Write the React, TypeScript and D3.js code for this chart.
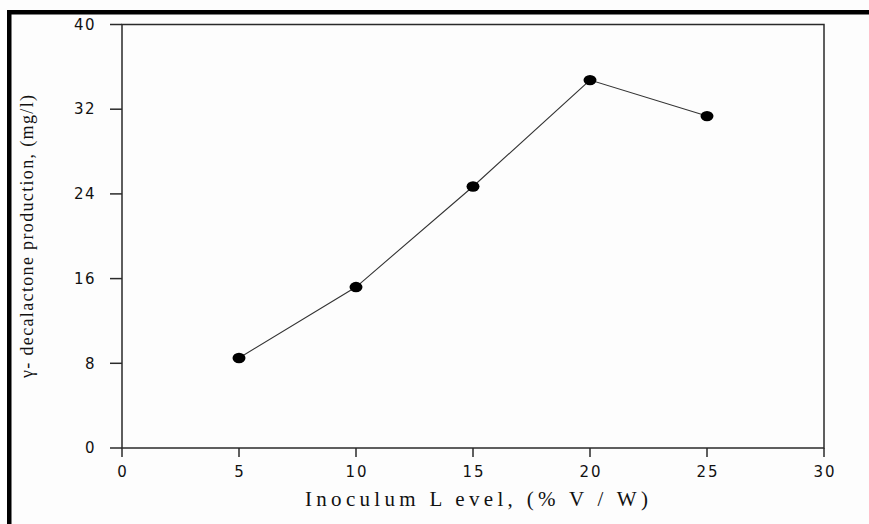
import React from "react";
import * as d3 from "d3";

const inoculumLevels = [5, 10, 15, 20, 25];
const lactoneValues = [8.5, 15.2, 24.7, 34.75, 31.35];
const xTicks = [0, 5, 10, 15, 20, 25, 30];
const yTicks = [0, 8, 16, 24, 32, 40];
const xTitle = "Inoculum L evel, (% V / W)";
const yTitle = "γ- decalactone production, (mg/l)";

const W = 869;
const H = 524;
const left = 122;
const right = 824;
const top = 24.5;
const bottom = 448;

export default function App() {
  const x = d3.scaleLinear().domain([0, 30]).range([left, right]);
  const y = d3.scaleLinear().domain([0, 40]).range([bottom, top]);
  const pts = inoculumLevels.map((v, i) => [x(v), y(lactoneValues[i])] as [number, number]);
  const line = d3.line()(pts) || "";
  const axisColor = "#2a2a2a";
  const tickFont = "'DejaVu Sans', 'Liberation Sans', Arial, sans-serif";
  return (
    <svg
      width={W}
      height={H}
      style={{ position: "absolute", left: 0, top: 0, background: "#fff" }}
    >
      <rect x={0} y={0} width={W} height={H} fill="#fdfdfd" />
      {/* outer thick border (left & top) */}
      <rect x={7} y={10} width={4.5} height={H - 10} fill="#000" />
      <rect x={7} y={10} width={W - 7} height={4.5} fill="#000" />

      {/* plot frame */}
      <rect
        x={left}
        y={top}
        width={right - left}
        height={bottom - top}
        fill="none"
        stroke={axisColor}
        strokeWidth={1.5}
      />

      {/* y ticks */}
      {yTicks.map((t) => (
        <g key={"y" + t}>
          <line x1={left - 12} x2={left} y1={y(t)} y2={y(t)} stroke={axisColor} strokeWidth={1.5} />
          <text
            x={96}
            y={y(t)}
            dy="0.35em"
            textAnchor="end"
            fontFamily={tickFont}
            fontSize={15}
            letterSpacing={1.5}
            fill="#111"
          >
            {t}
          </text>
        </g>
      ))}

      {/* x ticks */}
      {xTicks.map((t) => (
        <g key={"x" + t}>
          <line x1={x(t)} x2={x(t)} y1={bottom} y2={bottom + 9} stroke={axisColor} strokeWidth={1.5} />
          <text
            x={x(t) + 1}
            y={472}
            dy="0.35em"
            textAnchor="middle"
            fontFamily={tickFont}
            fontSize={15}
            letterSpacing={2}
            fill="#111"
          >
            {t}
          </text>
        </g>
      ))}

      {/* data line */}
      <path d={line} fill="none" stroke="#333" strokeWidth={1.1} />
      {pts.map(([px, py], i) => (
        <ellipse key={i} cx={px} cy={py} rx={6.5} ry={5.2} fill="#000" />
      ))}

      {/* axis titles */}
      <text
        x={305}
        y={499}
        dy="0.35em"
        textLength={343}
        lengthAdjust="spacing"
        fontFamily="'Liberation Serif', 'Times New Roman', serif"
        fontSize={21}
        fill="#111"
        style={{ whiteSpace: "pre" }}
      >
        {xTitle}
      </text>
      <text
        transform={`translate(27, 378) rotate(-90)`}
        dy="0.35em"
        textLength={283}
        lengthAdjust="spacing"
        fontFamily="'Liberation Serif', 'Times New Roman', serif"
        fontSize={18}
        fill="#111"
      >
        {yTitle}
      </text>
    </svg>
  );
}
